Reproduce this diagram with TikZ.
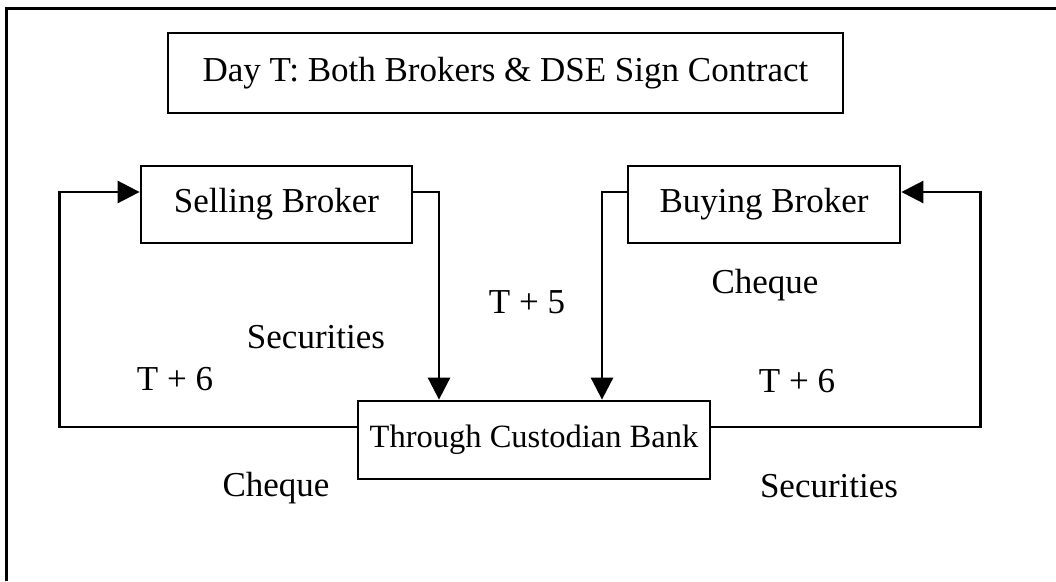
\documentclass[tikz,border=0pt]{standalone}
\usepackage{fontspec}
\setmainfont{Liberation Serif}
\usetikzlibrary{arrows.meta}
\begin{document}
\begin{tikzpicture}[x=1pt,y=-1pt,
  box/.style={draw, line width=2.8pt, inner sep=0pt,
    font=\fontsize{35}{42}\selectfont},
  lbl/.style={inner sep=0pt, anchor=base, font=\fontsize{35}{42}\selectfont},
  flow/.style={line width=2.8pt, -{Triangle[length=22pt,width=22pt]}},
  frame/.style={line width=3pt}]
\useasboundingbox (0,0) rectangle (1056,581);

% outer frame (only top and left edges show)
\draw[frame] (6,581) -- (6,8) -- (1056,8);

% boxes
\node[box, minimum width=675pt, minimum height=80pt] (day) at (505.5,73)
  {Day T: Both Brokers \& DSE Sign Contract};
\node[box, minimum width=271pt, minimum height=77pt] (sell) at (276.5,204.5)
  {Selling Broker};
\node[box, minimum width=272pt, minimum height=77pt] (buy) at (764,204.5)
  {Buying Broker};
\node[box, minimum width=352pt, minimum height=78pt,
  font=\fontsize{32.5}{40}\selectfont] (bank) at (534,440)
  {Through Custodian Bank};

% flows
\draw[flow] ([yshift=13pt]bank.west) -- ++(-297,0) |- ([yshift=12.5pt]sell.west);
\draw[flow] ([yshift=12.5pt]sell.east) -| ([xshift=-95pt]bank.north);
\draw[flow] ([yshift=12.5pt]buy.west) -| ([xshift=68pt]bank.north);
\draw[flow] ([yshift=13pt]bank.east) -- ++(269,0) |- ([yshift=12.5pt]buy.east);

% labels
\node[lbl] (secA) at (316,348) {Securities};
\node[lbl] (t6a) at (175,390) {T + 6};
\node[lbl] (t5) at (527,313) {T + 5};
\node[lbl] (chqA) at (765,293) {Cheque};
\node[lbl] (t6b) at (797,392) {T + 6};
\node[lbl] (chqB) at (276,496) {Cheque};
\node[lbl] (secB) at (829,497) {Securities};
\end{tikzpicture}
\end{document}
